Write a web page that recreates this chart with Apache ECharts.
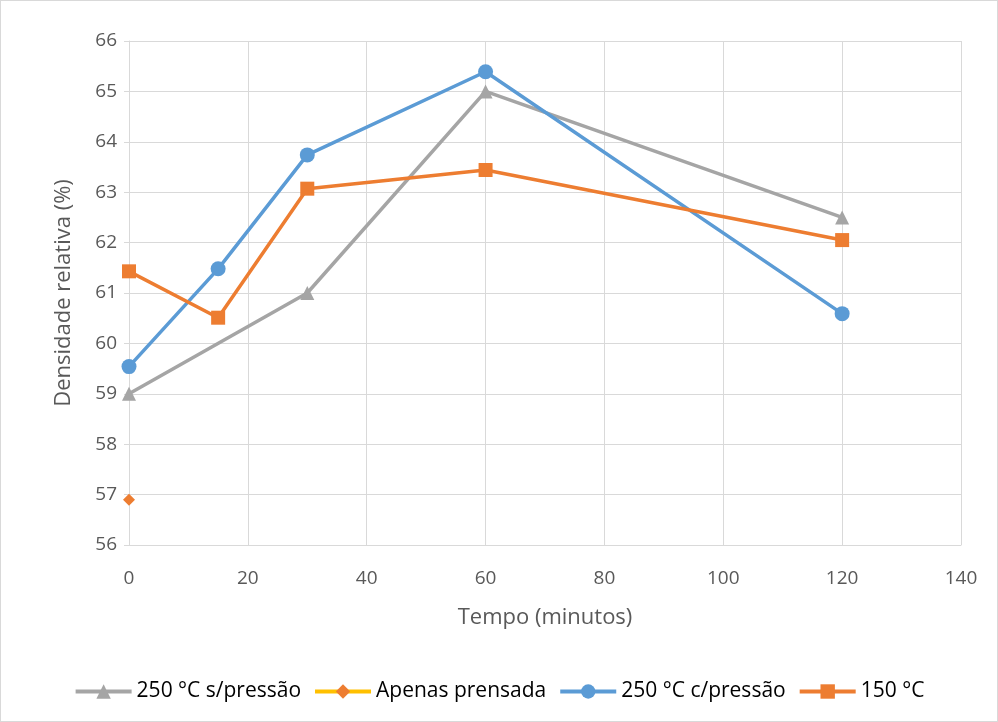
<!DOCTYPE html>
<html><head><meta charset="utf-8">
<script src="https://cdn.jsdelivr.net/npm/echarts@6/dist/echarts.min.js"></script>
<style>html,body{margin:0;padding:0;background:#fff}#c{width:998px;height:722px;box-sizing:border-box;border:1px solid #d9d9d9}</style>
</head><body><div id="c"></div>
<script>
const sSemPressaoX = [0, 30, 60, 120];
const sSemPressaoY = [59, 61, 65, 62.5];
const apenasX = [0];
const apenasY = [56.9];
const cPressaoX = [0, 15, 30, 60, 120];
const cPressaoY = [59.54, 61.48, 63.74, 65.39, 60.59];
const c150X = [0, 15, 30, 60, 120];
const c150Y = [61.43, 60.51, 63.07, 63.44, 62.05];
const names = ['250 °C s/pressão', 'Apenas prensada', '250 °C c/pressão', '150 °C'];
const pair = (xs, ys) => xs.map((x, i) => [x, ys[i]]);
const font = 'Open Sans, Noto Sans, sans-serif';
const chart = echarts.init(document.getElementById('c'));
chart.setOption({
  animation: false,
  textStyle: {fontFamily: font},
  grid: {left: 128, right: 36, top: 40, bottom: 176, containLabel: false},
  xAxis: {type: 'value', min: 0, max: 140, interval: 20,
    name: 'Tempo (minutos)', nameLocation: 'middle', nameGap: 62,
    nameTextStyle: {color: '#595959', fontSize: 22, fontFamily: font},
    axisLine: {show: true, lineStyle: {color: '#d9d9d9'}},
    axisTick: {show: false},
    axisLabel: {color: '#595959', fontSize: 19, margin: 24},
    splitLine: {show: true, lineStyle: {color: '#d9d9d9'}}},
  yAxis: {type: 'value', min: 56, max: 66, interval: 1,
    name: 'Densidade relativa (%)', nameLocation: 'middle', nameGap: 54,
    nameTextStyle: {color: '#595959', fontSize: 22, fontFamily: font},
    axisLine: {show: true, lineStyle: {color: '#d9d9d9'}},
    axisLabel: {color: '#595959', fontSize: 19, margin: 12},
    splitLine: {show: true, lineStyle: {color: '#d9d9d9'}}},
  legend: {bottom: 14, left: 'center', itemWidth: 56, itemHeight: 18, itemGap: 12,
    lineStyle: {width: 4},
    textStyle: {color: '#000', fontSize: 21, fontFamily: font},
    data: names},
  series: [
    {name: names[0], type: 'line', data: pair(sSemPressaoX, sSemPressaoY), color: '#a5a5a5',
      lineStyle: {width: 3.5}, symbol: 'triangle', symbolSize: 14},
    {name: names[1], type: 'line', data: pair(apenasX, apenasY),
      lineStyle: {width: 3.5, color: '#ffc000'}, symbol: 'diamond', symbolSize: 12, itemStyle: {color: '#ed7d31'}},
    {name: names[2], type: 'line', data: pair(cPressaoX, cPressaoY), color: '#5b9bd5',
      lineStyle: {width: 3.5}, symbol: 'circle', symbolSize: 15},
    {name: names[3], type: 'line', data: pair(c150X, c150Y), color: '#ed7d31',
      lineStyle: {width: 3.5}, symbol: 'rect', symbolSize: 14}
  ]
});
</script></body></html>
